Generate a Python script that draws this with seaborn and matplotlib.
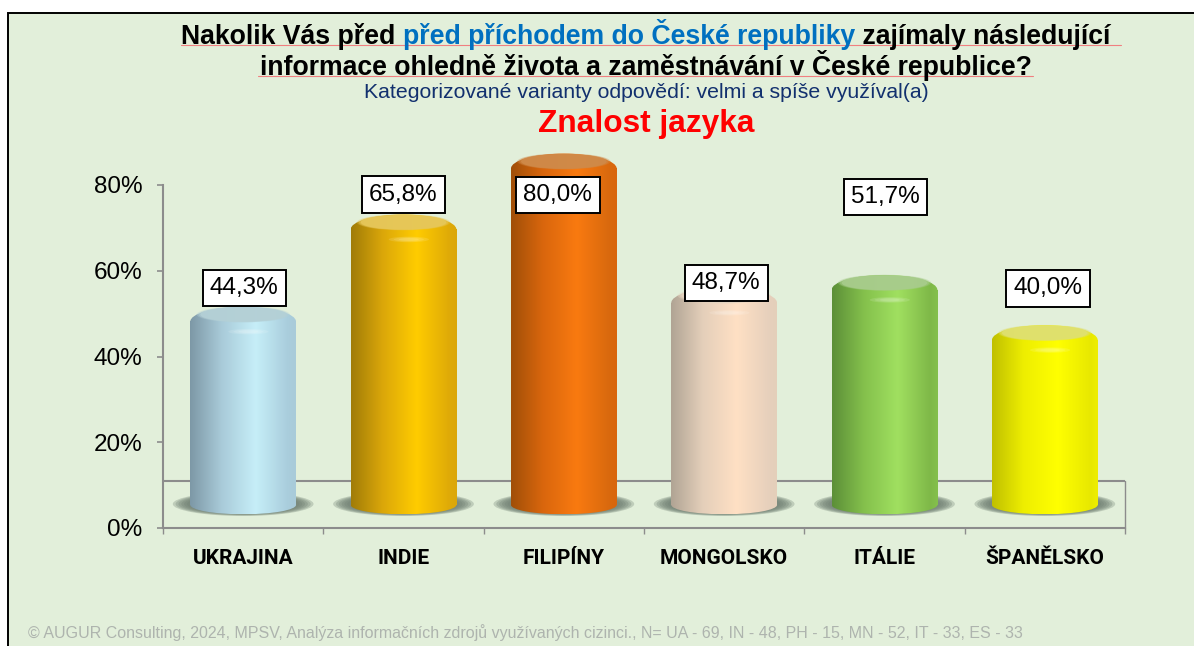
import numpy as np
import matplotlib
matplotlib.use("Agg")
import matplotlib.pyplot as plt
from matplotlib.colors import LinearSegmentedColormap
from matplotlib.patches import Ellipse, Rectangle
import pandas as pd
import seaborn as sns

categories = ["UKRAJINA", "INDIE", "FILIPÍNY", "MONGOLSKO", "ITÁLIE", "ŠPANĚLSKO"]
values = [44.3, 65.8, 80.0, 48.7, 51.7, 40.0]
value_labels = ["44,3%", "65,8%", "80,0%", "48,7%", "51,7%", "40,0%"]
y_ticks = [0, 20, 40, 60, 80]
y_tick_labels = ["0%", "20%", "40%", "60%", "80%"]
title_a = "Nakolik Vás před "
title_b = "před příchodem do České republiky"
title_c = " zajímaly následující"
title_2 = "informace ohledně života a zaměstnávání v České republice?"
subtitle = "Kategorizované varianty odpovědí: velmi a spíše využíval(a)"
topic = "Znalost jazyka"
source = "© AUGUR Consulting, 2024, MPSV, Analýza informačních zdrojů využívaných cizinci., N= UA - 69, IN - 48, PH - 15, MN - 52, IT - 33, ES - 33"

# dark edge, mid, highlight, right edge, cap colour
bar_colors = [
    ["#7d98a6", "#a9cbd9", "#c6eef8", "#a9cddc", "#b4d0d6"],
    ["#a07c08", "#dba70a", "#ffcc00", "#dfaa08", "#e6c75a"],
    ["#a04f08", "#d9660d", "#f97a10", "#d9690e", "#cf8a4a"],
    ["#b0a494", "#e4cfba", "#ffe0c4", "#e6d0bc", "#e4d4c0"],
    ["#5c8f38", "#84c04c", "#a0e060", "#7fb848", "#a8cc8c"],
    ["#c0c000", "#eeee00", "#ffff00", "#e8e800", "#dfe070"],
]
bg = "#e2efda"
axis_gray = "#8c8c8c"
floor = 11.0      # wall/floor line, in axis units
base = 5.4        # centre of the bar foot, in axis units
ell_h = 4.4       # cylinder ellipse height, in axis units
label_offsets = [27, 28, -33, 13, 86, 45]   # px from bar top to label
label_shift = [1, 0, -6, 2, 1, 3]

sns.set_theme(style="white")
plt.rcParams["font.family"] = ["Liberation Sans", "DejaVu Sans"]

fig = plt.figure(figsize=(11.94, 6.46), dpi=100, facecolor="white")
W, H = 1194, 646
fig.patches.append(Rectangle((8 / W, -0.02), 1, 1.02 - 13 / H, transform=fig.transFigure,
                             fc=bg, ec="black", lw=1.4, zorder=-5))
ax = fig.add_axes([163 / W, (H - 528) / H, 962 / W, 343 / H])
ax.patch.set_alpha(0)

df = pd.DataFrame({"stat": categories, "value": values})
sns.barplot(data=df, x="stat", y="value", ax=ax, width=0.66, color="#cccccc", zorder=3)
ax.set_xlim(-0.5, 5.5)
ax.set_ylim(0, 80)

ax.axhline(floor, color=axis_gray, lw=1.5, zorder=1)
ax.plot([5.5, 5.5], [0, floor], color=axis_gray, lw=1, zorder=1, clip_on=False)

for i, p in enumerate(list(ax.patches)):
    x0, w, v = p.get_x(), p.get_width(), p.get_height()
    c = bar_colors[i]
    xc = x0 + w / 2
    # soft shadow on the floor
    for k in np.linspace(1.0, 0.8, 6):
        ax.add_patch(Ellipse((xc, base + 0.2), w * 1.33 * k, 5.6 * k, fc="#6f7f72",
                             ec="none", alpha=0.3, zorder=2))
    cmap = LinearSegmentedColormap.from_list("c", [(0, c[0]), (0.3, c[1]), (0.62, c[2]),
                                                   (0.93, c[3]), (1, c[1])])
    grad = np.linspace(0, 1, 256).reshape(1, -1)
    p.set_visible(False)
    # body
    ax.imshow(grad, cmap=cmap, aspect="auto", zorder=3.1, clip_on=False,
              extent=(x0, x0 + w, base, base + v - 1.6))
    # rounded foot
    foot_img = ax.imshow(grad, cmap=cmap, aspect="auto", zorder=3.1,
                         extent=(x0, x0 + w, base - ell_h / 2, base + 0.1))
    foot_img.set_clip_path(Ellipse((xc, base), w, ell_h, transform=ax.transData))
    # shoulder and cap
    top_img = ax.imshow(grad, cmap=cmap, aspect="auto", zorder=3.2,
                        extent=(x0, x0 + w, base + v - 1.7, base + v + 2))
    top_img.set_clip_path(Ellipse((xc, base + v - 1.6), w, ell_h * 1.6, transform=ax.transData))
    top_img.set_clip_box(fig.bbox)
    for k, a in zip([1.0, 0.96, 0.92], [0.35, 0.5, 0.9]):
        ax.add_patch(Ellipse((xc, base + v + 0.1), w * 0.88 * k, ell_h * 0.85 * k, fc=c[4], ec="none",
                             alpha=a, zorder=3.4, clip_on=False))
    for k in [1.0, 0.75, 0.5]:
        ax.add_patch(Ellipse((xc + w * 0.05, base + v - 3.9), w * 0.38 * k, 1.3 * k, fc="white", ec="none",
                             alpha=0.12, zorder=3.5, clip_on=False))
    ax.annotate(value_labels[i], (xc, base + v), xytext=(label_shift[i], label_offsets[i]),
                textcoords="offset pixels", ha="center", va="center", fontsize=17.5, color="black",
                zorder=6, annotation_clip=False,
                bbox=dict(boxstyle="square,pad=0.3", fc="white", ec="black", lw=1.4))

ax.set_xlim(-0.5, 5.5)
ax.set_ylim(0, 80)
for s in ["top", "right"]:
    ax.spines[s].set_visible(False)
for s in ["left", "bottom"]:
    ax.spines[s].set_color(axis_gray)
    ax.spines[s].set_linewidth(1.5)
ax.set_xlabel("")
ax.set_ylabel("")
ax.set_yticks(y_ticks)
ax.set_yticklabels(y_tick_labels, fontsize=17.5, color="black")
ax.set_xticks(range(len(categories)))
ax.set_xticklabels(categories, fontsize=15, fontweight="bold", color="black", family="Roboto")
ax.tick_params(axis="y", left=True, length=4.5, width=1.2, color=axis_gray, pad=10.5)
ax.tick_params(axis="x", bottom=False, pad=9)
ax.set_xticks(np.arange(-0.5, 6, 1), minor=True)
ax.tick_params(axis="x", which="minor", bottom=True, length=4.5, width=1, color=axis_gray)

# title lines, first one has three colours so measure as we go
renderer = fig.canvas.get_renderer()
xpos = 181 / W
for part, col in zip([title_a, title_b, title_c], ["black", "#0070c0", "black"]):
    t = fig.text(xpos, 1 - 44 / H, part, fontsize=19.2, fontweight="bold", color=col,
                 ha="left", va="baseline")
    xpos = t.get_window_extent(renderer).x1 / W
fig.text(646 / W, 1 - 75 / H, title_2, fontsize=19.2, fontweight="bold", color="black",
         ha="center", va="baseline")
fig.add_artist(plt.Line2D([181 / W, 1121 / W], [1 - 45 / H] * 2, color="#f08080", lw=0.8))
fig.add_artist(plt.Line2D([258 / W, 1033 / W], [1 - 76 / H] * 2, color="#f08080", lw=0.8))
fig.text(646 / W, 1 - 93 / H, subtitle, fontsize=15.3, color="#12306e", ha="center", va="center")
fig.text(646 / W, 1 - 124 / H, topic, fontsize=22.8, fontweight="bold", color="#ff0000",
         ha="center", va="center")
fig.text(28 / W, 1 - 633 / H, source, fontsize=11.56, color="#aeb4ae", ha="left", va="center")

fig.savefig("out.png", dpi=100, facecolor="white")
